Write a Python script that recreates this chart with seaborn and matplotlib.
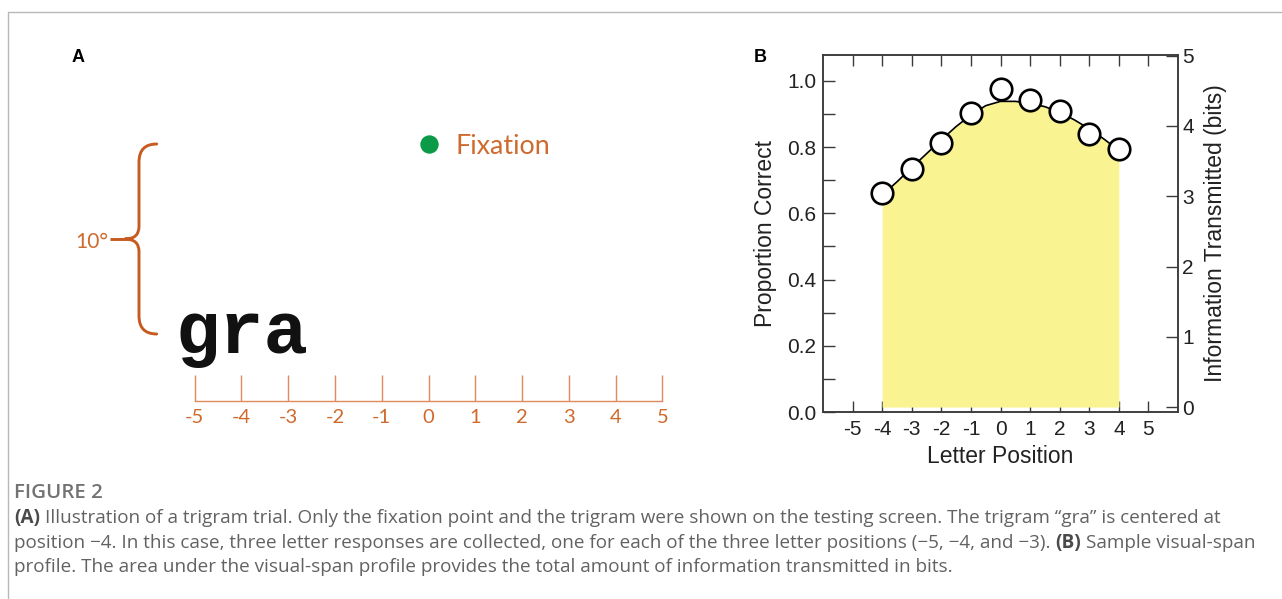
import numpy as np
import pandas as pd
import matplotlib
matplotlib.use("Agg")
import matplotlib.pyplot as plt
import seaborn as sns
from matplotlib.path import Path
from matplotlib.patches import PathPatch
from matplotlib.lines import Line2D
from matplotlib.ticker import FixedLocator

# ---------------- data ----------------
positions = [-4, -3, -2, -1, 0, 1, 2, 3, 4]
prop_correct = [0.661, 0.734, 0.811, 0.904, 0.976, 0.943, 0.909, 0.840, 0.795]
fit_x = [-4, -3.5, -3, -2.5, -2, -1.5, -1, -0.5, 0, 0.5, 1, 1.5, 2, 2.5, 3, 3.5, 4]
fit_y = [0.655, 0.695, 0.738, 0.780, 0.822, 0.862, 0.897, 0.925, 0.938,
         0.938, 0.932, 0.922, 0.905, 0.882, 0.855, 0.824, 0.790]
letter_ticks = [-5, -4, -3, -2, -1, 0, 1, 2, 3, 4, 5]
prop_major = [0.0, 0.2, 0.4, 0.6, 0.8, 1.0]
prop_minor = [0.1, 0.3, 0.5, 0.7, 0.9]
bits_ticks = [0, 1, 2, 3, 4, 5]
trigram = "gra"
trigram_center = -4
fixation_pos = 0
eccentricity_deg = 10

caption_l1 = [("(A)", "bold"), ("Illustration of a trigram trial. Only the fixation point and the trigram were shown on the testing screen. The trigram \u201cgra\u201d is centered at", "normal")]
caption_l2 = [("position \u22124. In this case, three letter responses are collected, one for each of the three letter positions (\u22125, \u22124, and \u22123).", "normal"), ("(B)", "bold"), ("Sample visual-span", "normal")]
caption_l3 = [("profile. The area under the visual-span profile provides the total amount of information transmitted in bits.", "normal")]

# ---------------- setup ----------------
W, H = 1282, 599
sns.set_theme(style="white")
plt.rcParams["font.family"] = ["Liberation Sans", "DejaVu Sans"]
fig = plt.figure(figsize=(W / 100, H / 100), dpi=100)
fig.patch.set_facecolor("white")
renderer = fig.canvas.get_renderer()


def px(x, y):
    return x / W, 1 - y / H


def fit_width(t, target):
    w = t.get_window_extent(renderer).width
    t.set_fontsize(t.get_fontsize() * target / w)


# page frame lines
fig.add_artist(Line2D([8 / W, 1], [1 - 12 / H, 1 - 12 / H], transform=fig.transFigure, color="#b8b8b8", lw=1))
fig.add_artist(Line2D([8 / W, 8 / W], [1 - 12 / H, 0], transform=fig.transFigure, color="#b8b8b8", lw=1))

# panel letters
fig.text(*px(78, 58), "A", ha="center", va="center", fontsize=13, fontweight="bold", color="black")
fig.text(*px(760, 58), "B", ha="center", va="center", fontsize=13, fontweight="bold", color="black")

# ---------------- Panel A ----------------
orange_dark = "#c75b1f"
orange_text = "#cf6a2e"
orange_ruler = "#e0895a"
x0p, x1p, ruler_l, ruler_r = 60, 700, 194.6, 662.5
ppu = (ruler_r - ruler_l) / 10
top_p, bot_p, fix_p, ppd = 30, 401, 144, 19.0
axA = fig.add_axes([x0p / W, 1 - bot_p / H, (x1p - x0p) / W, (bot_p - top_p) / H])
axA.set_xlim(-5 - (ruler_l - x0p) / ppu, 5 + (x1p - ruler_r) / ppu)
axA.set_ylim(-(bot_p - fix_p) / ppd, (fix_p - top_p) / ppd)
axA.patch.set_alpha(0)
for s in ["left", "right", "top"]:
    axA.spines[s].set_visible(False)
axA.spines["bottom"].set_bounds(letter_ticks[0], letter_ticks[-1])
axA.spines["bottom"].set_color(orange_ruler)
axA.spines["bottom"].set_linewidth(1.0)
axA.set_xticks(letter_ticks)
axA.set_xticklabels([str(v) for v in letter_ticks], family=["Lato", "DejaVu Sans"])
axA.set_yticks([])
axA.tick_params(axis="x", direction="in", length=18.5, width=1.0, color=orange_ruler,
                labelcolor=orange_text, labelsize=14.5, pad=6, bottom=True)

# fixation dot
sns.scatterplot(x=[fixation_pos], y=[0], s=175, color="#0a9a48", linewidth=0, ax=axA, zorder=3, clip_on=False)
tf = axA.text(fixation_pos + (455 - 428.3) / ppu, -(153.5 - fix_p) / ppd, "Fixation", ha="left", va="baseline",
              family=["Lato", "DejaVu Sans"], fontsize=20, color=orange_text)
fit_width(tf, 95)

# trigram
tg = axA.text(trigram_center, -(353 - fix_p) / ppd, trigram, ha="center", va="baseline",
              family=["Liberation Mono", "DejaVu Sans Mono"], fontweight="bold", fontsize=50, color="#111111")
fit_width(tg, 133)

# brace from fixation level (0) down to trigram level (-eccentricity)
xe = -5 + (156.7 - ruler_l) / ppu
xv = -5 + (139 - ruler_l) / ppu
xt = -5 + (125 - ruler_l) / ppu
xs = -5 + (110 - ruler_l) / ppu
ytop, ybot = 0.0, -float(eccentricity_deg)
ymid = (ytop + ybot) / 2
c = 0.95
verts = [(xe, ytop), (xv, ytop), (xv, ytop - c),
         (xv, ymid + c * 0.7),
         (xv, ymid), (xt, ymid),
         (xv, ymid), (xv, ymid - c * 0.7),
         (xv, ybot + c),
         (xv, ybot), (xe, ybot)]
codes = [Path.MOVETO, Path.CURVE3, Path.CURVE3,
         Path.LINETO,
         Path.CURVE3, Path.CURVE3,
         Path.CURVE3, Path.CURVE3,
         Path.LINETO,
         Path.CURVE3, Path.CURVE3]
axA.add_patch(PathPatch(Path(verts, codes), fill=False, edgecolor=orange_dark, lw=2.1, clip_on=False,
                        capstyle="round", joinstyle="round"))
axA.plot([xt, xs], [ymid, ymid], color=orange_dark, lw=2.1, clip_on=False, solid_capstyle="butt")
t10 = axA.text(-5 + (108 - ruler_l) / ppu, -(248.5 - fix_p) / ppd, f"{eccentricity_deg}\u00b0", ha="right",
               va="baseline", family=["Lato", "DejaVu Sans"], fontsize=16, color=orange_text)
fit_width(t10, 33)

# ---------------- Panel B ----------------
L, R, T, B = 823, 1178, 55, 412
ax = fig.add_axes([L / W, 1 - B / H, (R - L) / W, (B - T) / H])
ax.set_xlim(-6, 6)
ax.set_ylim(0, 1.078)
ax2 = ax.twinx()
ax2.set_ylim(-0.07, 5.01)

base = ax.transData.inverted().transform(ax2.transData.transform((0, 0)))[1]
ax.fill_between(fit_x, base, fit_y, color="#f9f391", linewidth=0, zorder=1)
sns.lineplot(x=fit_x, y=fit_y, ax=ax, color="black", lw=1.2, zorder=2)
sns.scatterplot(x=positions, y=prop_correct, ax=ax, s=240, facecolor="white", edgecolor="black",
                linewidth=1.9, zorder=3, clip_on=False)

spine_c = "#3a3a3a"
for a in (ax, ax2):
    for s in a.spines.values():
        s.set_color(spine_c)
        s.set_linewidth(1.1)

ax.set_xticks(letter_ticks)
ax.set_xticklabels([str(v) for v in letter_ticks])
ax.yaxis.set_major_locator(FixedLocator(prop_major))
ax.set_yticklabels([f"{v:.1f}" for v in prop_major])
ax.yaxis.set_minor_locator(FixedLocator(prop_minor))
ax.tick_params(axis="x", which="major", direction="in", top=True, bottom=True, length=8, width=1.0,
               color=spine_c, labelsize=15, pad=6, labelcolor="#222222")
ax.tick_params(axis="y", which="both", direction="in", left=True, right=False, length=8.5, width=1.0,
               color=spine_c, labelsize=15, pad=5, labelcolor="#222222")
ax2.set_yticks(bits_ticks)
ax2.set_yticklabels([str(v) for v in bits_ticks])
ax2.tick_params(axis="y", direction="in", right=True, left=False, length=8.5, width=1.0,
                color=spine_c, labelsize=15, pad=3, labelcolor="#222222")
ax.set_xlabel("Letter Position", fontsize=16.5, labelpad=4, color="#222222")
ax.set_ylabel("Proportion Correct", fontsize=16.5, labelpad=7, color="#222222")
ax2.set_ylabel("Information Transmitted (bits)", fontsize=16.5, labelpad=7, color="#222222")
ax.grid(False)
ax2.grid(False)

# ---------------- Caption ----------------
cap_family = ["Open Sans", "DejaVu Sans"]
cap_color = "#626262"
tfig = fig.text(*px(14, 498.3), "FIGURE 2", ha="left", va="baseline", family=cap_family,
                fontweight="semibold", fontsize=10, color="#737373")
fit_width(tfig, 89)


def draw_runs(x_start, y_base, runs, size):
    arts = []
    x = x_start
    probe1 = fig.text(0, 0, "a a", fontsize=size, family=cap_family)
    probe2 = fig.text(0, 0, "aa", fontsize=size, family=cap_family)
    sp = probe1.get_window_extent(renderer).width - probe2.get_window_extent(renderer).width
    probe1.remove(); probe2.remove()
    for i, (s, wgt) in enumerate(runs):
        t = fig.text(*px(x, y_base), s, ha="left", va="baseline", family=cap_family, fontweight=wgt,
                     fontsize=size, color="#4a4a4a" if wgt == "bold" else cap_color)
        arts.append(t)
        x = t.get_window_extent(renderer).x1 + sp
    return arts, x - sp


trial, end = draw_runs(14, 0, caption_l2, 12)
for t in trial:
    t.remove()
cap_size = 12 * (1252 - 14) / (end - 14)
draw_runs(14, 523.3, caption_l1, cap_size)
draw_runs(14, 547.8, caption_l2, cap_size)
draw_runs(14, 572.3, caption_l3, cap_size)

fig.savefig("out.png", dpi=100, facecolor="white")
